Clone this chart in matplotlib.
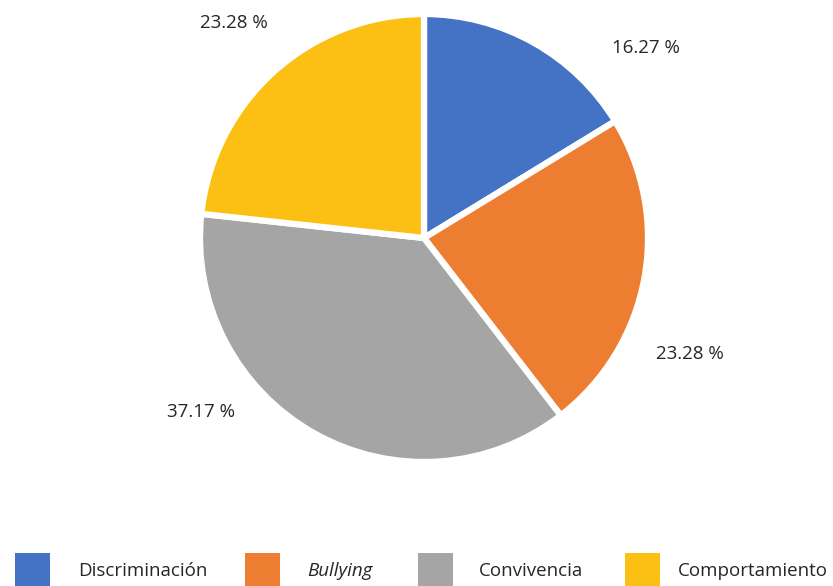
import matplotlib
matplotlib.use("Agg")
import matplotlib.pyplot as plt
from matplotlib.patches import Rectangle

categories = ["Discriminación", "Bullying", "Convivencia", "Comportamiento"]
values = [16.27, 23.28, 37.17, 23.28]
colors = ["#4472C4", "#ED7D31", "#A5A5A5", "#FCBF13"]
label_texts = ["16.27 %", "23.28 %", "37.17 %", "23.28 %"]
label_pos = [(0.99, 0.85), (1.185, -0.52), (-0.995, -0.775), (-0.85, 0.96)]

W, H = 833, 586
fig = plt.figure(figsize=(W / 100, H / 100), dpi=100)
plt.rcParams['font.family'] = ['Open Sans', 'DejaVu Sans']

cx, cy, r = 424, 238, 224
ax = fig.add_axes([(cx - r) / W, (H - cy - r) / H, 2 * r / W, 2 * r / H])
ax.pie(values, colors=colors, startangle=90, counterclock=False, radius=1,
       wedgeprops=dict(edgecolor="white", linewidth=4.5))
ax.set_xlim(-1, 1)
ax.set_ylim(-1, 1)
ax.set_aspect("equal")
ax.axis("off")

for t, (x, y) in zip(label_texts, label_pos):
    ax.text(x, y, t, ha="center", va="center", fontsize=13.5, color="#262626")

# legend
patch_x = [15, 245, 418, 625]
text_x = [78, 307, 479, 678]
for c, lab, px, tx in zip(colors, categories, patch_x, text_x):
    fig.add_artist(Rectangle((px / W, 0), 35 / W, 33 / H, transform=fig.transFigure,
                             facecolor=c, edgecolor="none"))
    style = "italic" if lab == "Bullying" else "normal"
    fig.text(tx / W, (H - 571) / H, lab, ha="left", va="center", fontsize=13.5,
             style=style, color="#262626")

fig.savefig("out.png", dpi=100)
